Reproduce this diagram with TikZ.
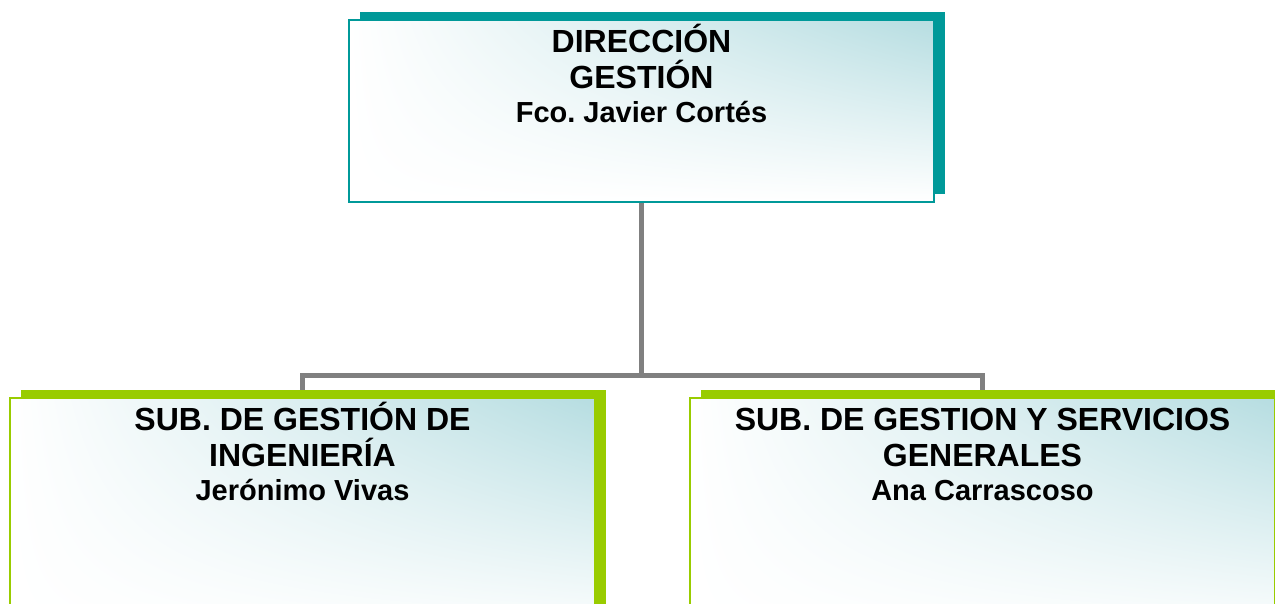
\documentclass[tikz,border=0pt]{standalone}
\usepackage{fontspec}
\setmainfont{Liberation Sans}
\frenchspacing
\usetikzlibrary{shadows,shadings,backgrounds}
\definecolor{tealc}{HTML}{009999}
\definecolor{greenc}{HTML}{99CC00}
\definecolor{tint}{HTML}{B6DDE1}
\definecolor{connc}{HTML}{808080}
\tikzset{
  box/.style={rectangle, minimum width=585pt, minimum height=#1, inner sep=0pt,
    upper right=tint, upper left=white, lower left=white, lower right=white,
    line width=1.5pt},
  topbox/.style={box=182pt, draw=tealc,
    general shadow={fill=tealc, shadow xshift=11pt, shadow yshift=8.5pt}},
  subbox/.style={box=240pt, draw=greenc,
    general shadow={fill=greenc, shadow xshift=11pt, shadow yshift=8.5pt}},
  conn/.style={draw=connc, line width=5pt, line join=miter},
  boxtext/.style={anchor=north, align=center, inner sep=0pt,
    font=\fontsize{32}{36}\selectfont\bfseries}
}
\newcommand{\nm}[1]{{\fontsize{29}{34}\selectfont #1}}
\begin{document}
\begin{tikzpicture}[x=1pt,y=-1pt]
\useasboundingbox (0,0) rectangle (1275,603);
\clip (0,0) rectangle (1275,603);
\coordinate (hub) at (641.5,375);
\node[topbox] (top) at (641.5,111) {};
\node[subbox] (left) at (302.5,518) {};
\node[subbox] (right) at (982.5,518) {};
\begin{scope}[on background layer]
\draw[conn] (top.south) -- (hub);
\draw[conn] (hub) -| ([yshift=-10pt]left.north);
\draw[conn] (hub) -| ([yshift=-10pt]right.north);
\end{scope}
\node[boxtext] (ttop) at (641.5,22) {\rule{0pt}{30pt}DIRECCIÓN\\GESTIÓN\\[-2pt]\nm{Fco. Javier Cortés}};
\node[boxtext] (tleft) at (302.5,400) {\rule{0pt}{30pt}SUB. DE GESTIÓN DE\\INGENIERÍA\\[-2pt]\nm{Jerónimo Vivas}};
\node[boxtext] (tright) at (982.5,400) {\rule{0pt}{30pt}SUB. DE GESTION Y SERVICIOS\\GENERALES\\[-2pt]\nm{Ana Carrascoso}};
\end{tikzpicture}
\end{document}
